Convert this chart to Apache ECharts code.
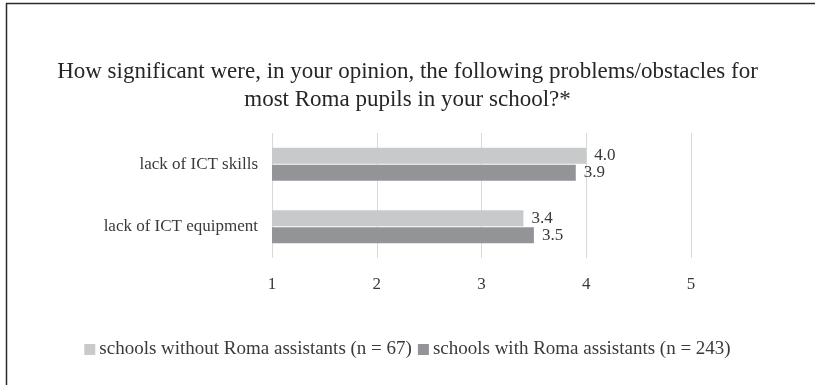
<!DOCTYPE html>
<html>
<head>
<meta charset="utf-8">
<script src="https://cdn.jsdelivr.net/npm/echarts@6/dist/echarts.min.js"></script>
<style>
  html, body { margin: 0; padding: 0; background: #fff; }
  #chart { width: 815px; height: 385px; }
</style>
</head>
<body>
<div id="chart"></div>
<script>
// Survey: mean significance of ICT obstacles (scale 1–5)
const categories = ['lack of ICT skills', 'lack of ICT equipment'];
const seriesNames = [
  'schools without Roma assistants (n = 67)',
  'schools with Roma assistants (n = 243)'
];
const withoutAssistants = [4.0, 3.4];
const withAssistants = [3.9, 3.5];
const xTicks = [1, 2, 3, 4, 5];

const serif = '"Liberation Serif", "DejaVu Serif", serif';
const textColor = '#3a3a3a';

const chart = echarts.init(document.getElementById('chart'));

const barLabel = {
  show: true,
  position: 'right',
  distance: 8,
  color: textColor,
  fontFamily: serif,
  fontSize: 17,
  formatter: p => p.value.toFixed(1)
};

chart.setOption({
  animation: false,
  backgroundColor: '#fff',
  title: {
    text: 'How significant were, in your opinion, the following problems/obstacles for\nmost Roma pupils in your school?*',
    left: 'center',
    top: 53,
    textStyle: {
      fontFamily: serif,
      fontWeight: 'normal',
      fontSize: 23,
      lineHeight: 28,
      color: '#262626',
      align: 'center'
    }
  },
  graphic: [
    { type: 'line', shape: { x1: 6, y1: 3.5, x2: 815, y2: 3.5 }, style: { stroke: '#2b2b2b', lineWidth: 1.5 } },
    { type: 'line', shape: { x1: 6.5, y1: 3, x2: 6.5, y2: 385 }, style: { stroke: '#2b2b2b', lineWidth: 1.5 } }
  ],
  legend: {
    left: 'center',
    top: 335,
    width: 780,
    orient: 'horizontal',
    itemWidth: 11,
    itemHeight: 11,
    itemGap: 6,
    icon: 'rect',
    textStyle: { fontFamily: serif, fontSize: 19, color: textColor, padding: [0, 0, 0, -1] },
    data: seriesNames
  },
  grid: { left: 272, right: 124, top: 133, bottom: 127, containLabel: false },
  xAxis: {
    type: 'value',
    min: xTicks[0],
    max: xTicks[xTicks.length - 1],
    interval: 1,
    axisLine: { show: false },
    axisTick: { show: false },
    splitLine: { show: true, lineStyle: { color: '#d9d9d9', width: 1 } },
    axisLabel: { color: textColor, fontFamily: serif, fontSize: 17, margin: 18 }
  },
  yAxis: {
    type: 'category',
    inverse: true,
    data: categories,
    axisLine: { show: false },
    axisTick: { show: false },
    axisLabel: { color: textColor, fontFamily: serif, fontSize: 17, margin: 14 }
  },
  series: [
    {
      name: seriesNames[0],
      type: 'bar',
      data: withoutAssistants,
      barWidth: 16,
      barGap: '6%',
      itemStyle: { color: '#c8c9cb' },
      label: barLabel
    },
    {
      name: seriesNames[1],
      type: 'bar',
      data: withAssistants,
      barWidth: 16,
      itemStyle: { color: '#939498' },
      label: barLabel
    }
  ]
});
</script>
</body>
</html>
